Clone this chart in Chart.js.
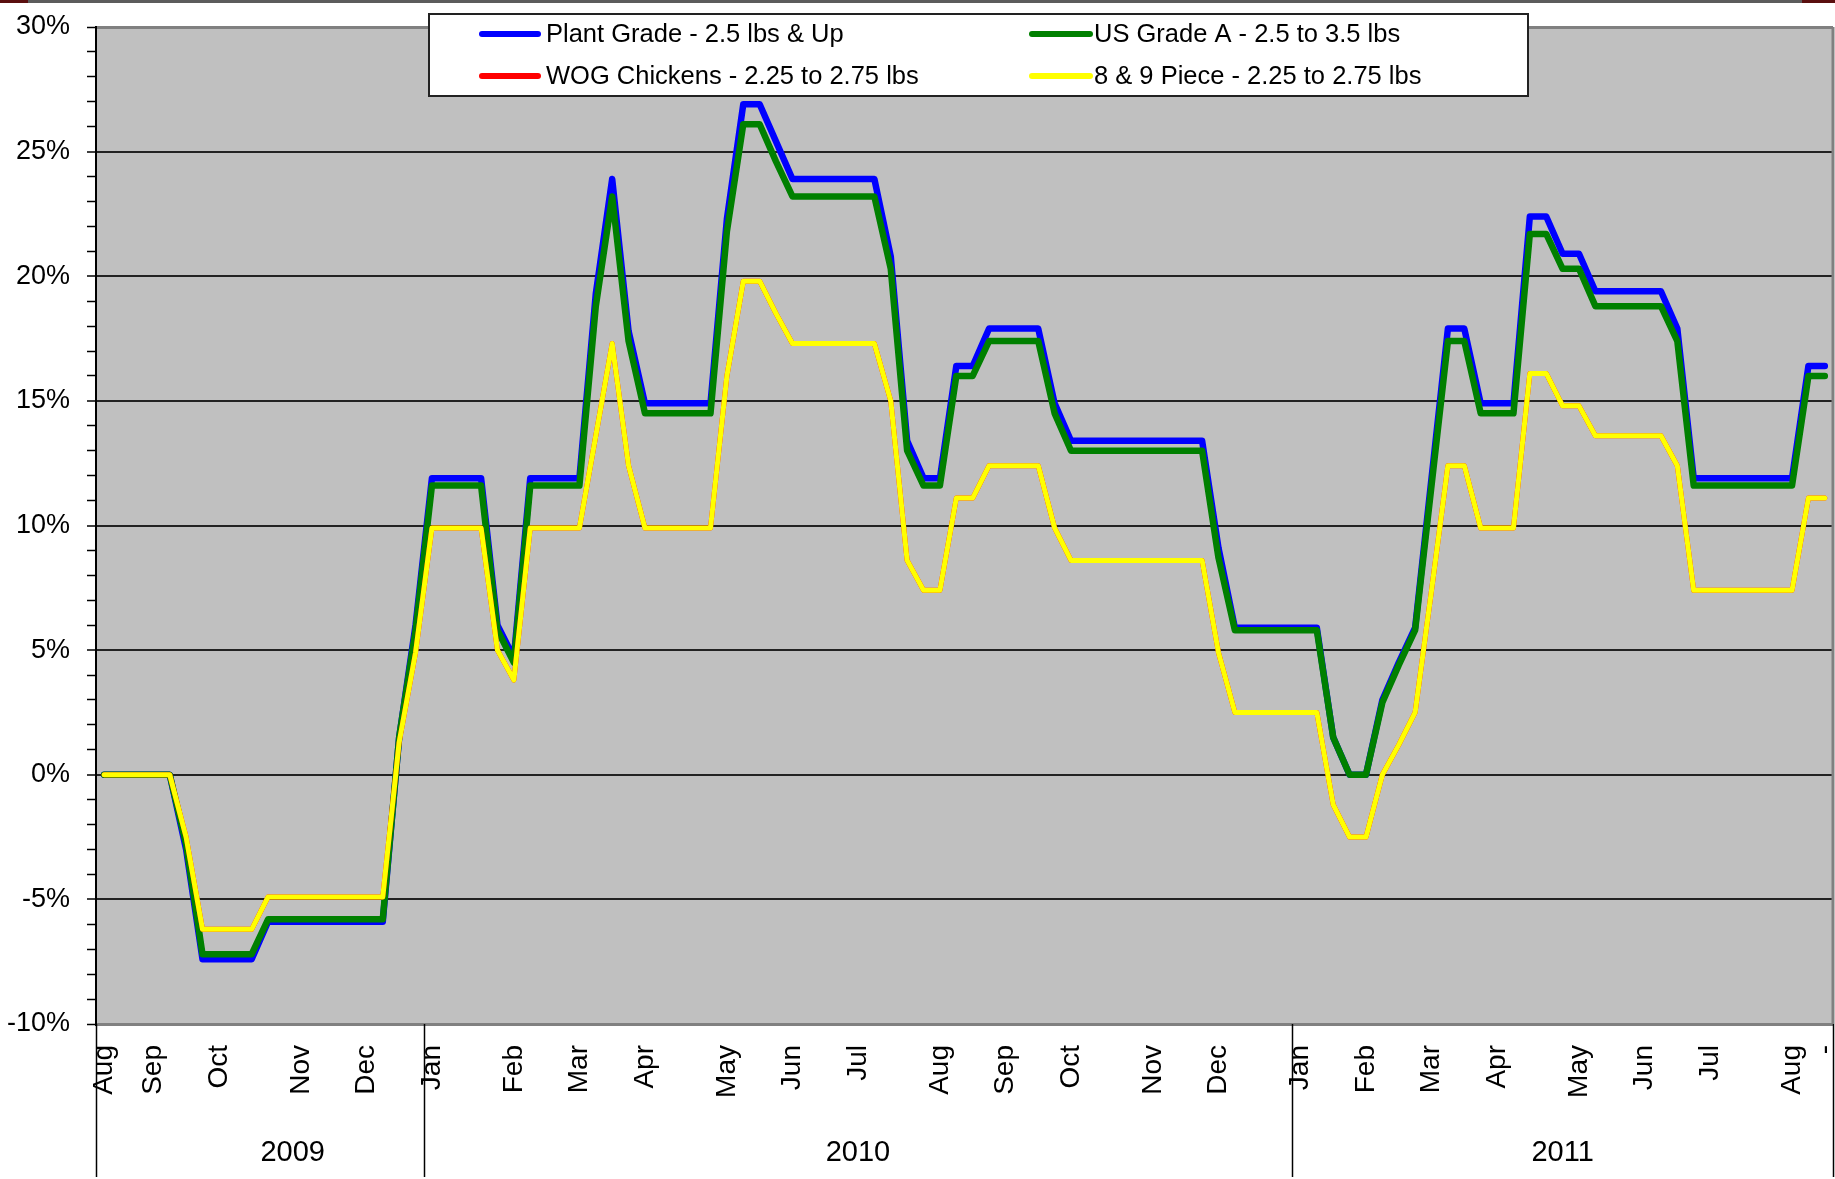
<!DOCTYPE html>
<html><head><meta charset="utf-8">
<script src="https://cdn.jsdelivr.net/npm/chart.js@4.4.1/dist/chart.umd.min.js"></script>
<style>html,body{margin:0;padding:0;background:#fff;overflow:hidden}#wrap{position:relative;width:1835px;height:1179px}</style>
</head><body><div id="wrap"><canvas id="c" width="1835" height="1179"></canvas></div>
<script>
// Weekly categories (Aug 2009 - Aug 2011), label on first week of each month
const weekLabels = [
  'Aug','','',
  'Sep','','','',
  'Oct','','','','',
  'Nov','','','',
  'Dec','','','',
  'Jan','','','','',
  'Feb','','','',
  'Mar','','','',
  'Apr','','','','',
  'May','','','',
  'Jun','','','',
  'Jul','','','','',
  'Aug','','','',
  'Sep','','','',
  'Oct','','','','',
  'Nov','','','',
  'Dec','','','','',
  'Jan','','','',
  'Feb','','','',
  'Mar','','','',
  'Apr','','','','',
  'May','','','',
  'Jun','','','',
  'Jul','','','','',
  'Aug','','-'
];
const yearLabels = ['2009','2010','2011'];
const yearStartIndex = [0, 20, 73];
const yearLabelCenterIndex = [11.5, 46, 89];

const seriesNames = [
  'Plant Grade - 2.5 lbs & Up',
  'US Grade A - 2.5 to 3.5 lbs',
  'WOG Chickens - 2.25 to 2.75 lbs',
  '8 & 9 Piece - 2.25 to 2.75 lbs'
];

const plantGrade = [
  0,0,0,0,0,-3.0,-7.4,-7.4,-7.4,-7.4,
  -5.9,-5.9,-5.9,-5.9,-5.9,-5.9,-5.9,-5.9,1.5,6.0,
  11.9,11.9,11.9,11.9,6.0,4.7,11.9,11.9,11.9,11.9,
  19.3,23.9,17.8,14.9,14.9,14.9,14.9,14.9,22.3,26.9,
  26.9,25.4,23.9,23.9,23.9,23.9,23.9,23.9,20.8,13.4,
  11.9,11.9,16.4,16.4,17.9,17.9,17.9,17.9,14.9,13.4,
  13.4,13.4,13.4,13.4,13.4,13.4,13.4,13.4,9.1,5.9,
  5.9,5.9,5.9,5.9,5.9,1.5,0,0,3.0,4.5,
  5.9,11.9,17.9,17.9,14.9,14.9,14.9,22.4,22.4,20.9,
  20.9,19.4,19.4,19.4,19.4,19.4,17.9,11.9,11.9,11.9,
  11.9,11.9,11.9,11.9,16.4,16.4
];
const usGradeA = [
  0,0,0,0,0,-2.8,-7.2,-7.2,-7.2,-7.2,
  -5.8,-5.8,-5.8,-5.8,-5.8,-5.8,-5.8,-5.8,1.5,5.8,
  11.6,11.6,11.6,11.6,5.8,4.5,11.6,11.6,11.6,11.6,
  18.8,23.2,17.4,14.5,14.5,14.5,14.5,14.5,21.8,26.1,
  26.1,24.6,23.2,23.2,23.2,23.2,23.2,23.2,20.3,13.0,
  11.6,11.6,16.0,16.0,17.4,17.4,17.4,17.4,14.5,13.0,
  13.0,13.0,13.0,13.0,13.0,13.0,13.0,13.0,8.7,5.8,
  5.8,5.8,5.8,5.8,5.8,1.5,0,0,2.9,4.4,
  5.8,11.6,17.4,17.4,14.5,14.5,14.5,21.7,21.7,20.3,
  20.3,18.8,18.8,18.8,18.8,18.8,17.4,11.6,11.6,11.6,
  11.6,11.6,11.6,11.6,16.0,16.0
];
const wogChickens = [
  0,0,0,0,0,-2.5,-6.2,-6.2,-6.2,-6.2,
  -4.9,-4.9,-4.9,-4.9,-4.9,-4.9,-4.9,-4.9,1.3,4.9,
  9.9,9.9,9.9,9.9,5.0,3.8,9.9,9.9,9.9,9.9,
  13.6,17.3,12.4,9.9,9.9,9.9,9.9,9.9,16.0,19.8,
  19.8,18.5,17.3,17.3,17.3,17.3,17.3,17.3,15.0,8.6,
  7.4,7.4,11.1,11.1,12.4,12.4,12.4,12.4,9.9,8.6,
  8.6,8.6,8.6,8.6,8.6,8.6,8.6,8.6,4.9,2.5,
  2.5,2.5,2.5,2.5,2.5,-1.2,-2.5,-2.5,0.0,1.2,
  2.5,7.4,12.4,12.4,9.9,9.9,9.9,16.1,16.1,14.8,
  14.8,13.6,13.6,13.6,13.6,13.6,12.4,7.4,7.4,7.4,
  7.4,7.4,7.4,7.4,11.1,11.1
];
const piece8and9 = [
  0,0,0,0,0,-2.5,-6.2,-6.2,-6.2,-6.2,
  -4.9,-4.9,-4.9,-4.9,-4.9,-4.9,-4.9,-4.9,1.3,4.9,
  9.9,9.9,9.9,9.9,5.0,3.8,9.9,9.9,9.9,9.9,
  13.6,17.3,12.4,9.9,9.9,9.9,9.9,9.9,16.0,19.8,
  19.8,18.5,17.3,17.3,17.3,17.3,17.3,17.3,15.0,8.6,
  7.4,7.4,11.1,11.1,12.4,12.4,12.4,12.4,9.9,8.6,
  8.6,8.6,8.6,8.6,8.6,8.6,8.6,8.6,4.9,2.5,
  2.5,2.5,2.5,2.5,2.5,-1.2,-2.5,-2.5,0.0,1.2,
  2.5,7.4,12.4,12.4,9.9,9.9,9.9,16.1,16.1,14.8,
  14.8,13.6,13.6,13.6,13.6,13.6,12.4,7.4,7.4,7.4,
  7.4,7.4,7.4,7.4,11.1,11.1
];

const yMin = -10, yMax = 30, yMajor = 5, yMinor = 1;
const FONT = '"Liberation Sans", Arial, sans-serif';

const bgPlugin = {
  id: 'bg',
  beforeDraw(chart) {
    const {ctx, chartArea: a} = chart;
    ctx.save();
    ctx.fillStyle = '#ffffff';
    ctx.fillRect(0, 0, chart.width, chart.height);
    ctx.fillStyle = '#C0C0C0';
    ctx.fillRect(a.left, a.top, a.right - a.left, a.bottom - a.top);
    ctx.restore();
  },
  beforeDatasetsDraw(chart) {
    const {ctx, chartArea: a} = chart;
    ctx.save();
    ctx.strokeStyle = '#808080';
    ctx.lineWidth = 3;
    ctx.beginPath();
    ctx.moveTo(a.right, a.top);
    ctx.lineTo(a.right, a.bottom);
    ctx.stroke();
    ctx.restore();
  }
};

function pixAt(xs, f) {
  const i0 = Math.floor(f), i1 = Math.ceil(f);
  const p0 = xs.getPixelForValue(i0), p1 = xs.getPixelForValue(i1);
  return p0 + (p1 - p0) * (f - i0);
}

const framePlugin = {
  id: 'frame',
  afterDraw(chart) {
    const {ctx, chartArea: a} = chart;
    const xs = chart.scales.x;
    ctx.save();
    // page top border
    ctx.fillStyle = '#5c5c5c';
    ctx.fillRect(0, 0, chart.width, 3);
    ctx.fillStyle = '#5a0f0f';
    ctx.fillRect(0, 0, 28, 3);
    ctx.fillRect(1802, 0, 33, 3);

    // year group separators and labels
    const bounds = [a.left];
    for (let k = 1; k < yearStartIndex.length; k++) {
      const i = yearStartIndex[k];
      bounds.push((xs.getPixelForValue(i - 1) + xs.getPixelForValue(i)) / 2);
    }
    bounds.push(a.right);
    ctx.strokeStyle = '#000';
    ctx.lineWidth = 1.5;
    bounds.forEach(bx => {
      ctx.beginPath();
      ctx.moveTo(Math.round(bx) + 0.5, a.bottom);
      ctx.lineTo(Math.round(bx) + 0.5, chart.height - 2);
      ctx.stroke();
    });
    ctx.fillStyle = '#000';
    ctx.font = '29px ' + FONT;
    ctx.textAlign = 'center';
    ctx.textBaseline = 'middle';
    yearLabels.forEach((t, k) => {
      ctx.fillText(t, pixAt(xs, yearLabelCenterIndex[k]), 1153);
    });

    // legend
    const L = {x: 429, y: 14, w: 1099, h: 82};
    ctx.fillStyle = '#fff';
    ctx.fillRect(L.x, L.y, L.w, L.h);
    ctx.strokeStyle = '#222';
    ctx.lineWidth = 2;
    ctx.strokeRect(L.x, L.y, L.w, L.h);
    const cols = [{lx: 482, lw: 56, tx: 546}, {lx: 1032, lw: 58, tx: 1094}];
    const rows = [34, 76];
    ctx.font = '25.5px ' + FONT;
    ctx.textAlign = 'left';
    ctx.textBaseline = 'middle';
    chart.data.datasets.forEach((ds, i) => {
      const c = cols[i % 2], r = rows[Math.floor(i / 2)];
      ctx.strokeStyle = ds.borderColor;
      ctx.lineWidth = 6;
      ctx.lineCap = 'round';
      ctx.beginPath();
      ctx.moveTo(c.lx, r);
      ctx.lineTo(c.lx + c.lw, r);
      ctx.stroke();
      ctx.fillStyle = '#000';
      ctx.fillText(ds.label, c.tx, r + 1);
    });
    ctx.restore();
  }
};

const isMajor = v => Math.abs(v % yMajor) < 1e-9;

new Chart(document.getElementById('c'), {
  type: 'line',
  data: {
    labels: weekLabels,
    datasets: [
      {label: seriesNames[0], data: plantGrade, borderColor: '#0000FF', borderWidth: 6.5, order: 3},
      {label: seriesNames[1], data: usGradeA, borderColor: '#008000', borderWidth: 6.5, order: 2},
      {label: seriesNames[2], data: wogChickens, borderColor: '#FF0000', borderWidth: 5, order: 1},
      {label: seriesNames[3], data: piece8and9, borderColor: '#FFFF00', borderWidth: 5, order: 0}
    ]
  },
  options: {
    responsive: false,
    animation: false,
    devicePixelRatio: 1,
    layout: {padding: {top: 27, right: 2, left: 0, bottom: 0}},
    elements: {
      point: {radius: 0, hoverRadius: 0},
      line: {tension: 0, borderJoinStyle: 'round', borderCapStyle: 'round', fill: false}
    },
    plugins: {legend: {display: false}, tooltip: {enabled: false}},
    scales: {
      x: {
        type: 'category',
        offset: true,
        grid: {display: false, drawTicks: false},
        border: {display: false},
        ticks: {
          autoSkip: false, maxRotation: 90, minRotation: 90, padding: 21,
          color: '#000', font: {family: FONT, size: 28}
        },
        afterFit(s) { s.height = 155; s.paddingLeft = 0; s.paddingRight = 0; }
      },
      y: {
        min: yMin, max: yMax,
        afterFit(s) { s.width = 96; s.paddingTop = 0; s.paddingBottom = 0; },
        ticks: {
          stepSize: yMinor, autoSkip: false, padding: 17, color: '#000',
          font: {family: FONT, size: 27},
          callback: v => isMajor(v) ? v + '%' : ''
        },
        grid: {
          color: c => {
            const v = c.tick ? c.tick.value : 0;
            if (v === yMax || v === yMin) return '#808080';
            return isMajor(v) ? '#222222' : 'rgba(0,0,0,0)';
          },
          lineWidth: c => {
            const v = c.tick ? c.tick.value : 0;
            if (v === yMax || v === yMin) return 3;
            return isMajor(v) ? 2 : 1;
          },
          tickColor: '#000',
          tickWidth: 1.5,
          tickLength: 9
        },
        border: {display: true, color: '#000', width: 2}
      }
    }
  },
  plugins: [bgPlugin, framePlugin]
});
</script></body></html>
